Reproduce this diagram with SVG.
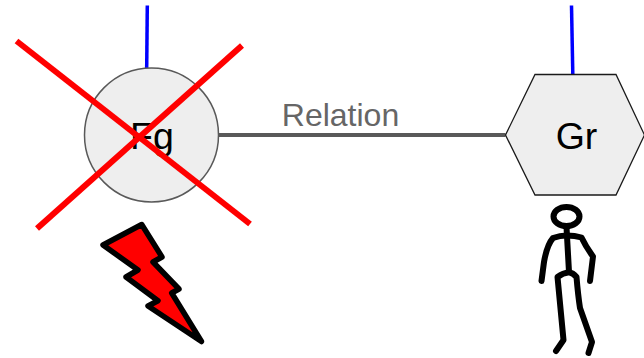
<svg xmlns="http://www.w3.org/2000/svg" width="644" height="358" viewBox="0 0 644 358">
<style>
.shape{fill:#eeeeee}
.lbl{font-family:"Liberation Sans",Arial,sans-serif;fill:#000;font-size:37.500px;text-anchor:middle}
.blue{fill:none;stroke:#0000ff;stroke-width:3.500}
.red{fill:none;stroke:#ff0000;stroke-width:6}
.fig{fill:none;stroke:#000;stroke-width:6;stroke-linecap:round;stroke-linejoin:round}
</style>
<rect width="644" height="358" fill="#fff"/>
<g id="connectors">
<path class="blue" d="M147.300 5.500L146.700 68"/>
<path class="blue" d="M571.500 5.500L572.800 74"/>
<path d="M218.500 135H505.500" fill="none" stroke="#595959" stroke-width="4"/>
<text x="340.500" y="126" font-family="'Liberation Sans',Arial,sans-serif" font-size="32px" fill="#666666" text-anchor="middle">Relation</text>
</g>
<g id="node-fg">
<circle class="shape" cx="151.500" cy="135" r="67" stroke="#595959" stroke-width="1.500"/>
<text class="lbl" x="152" y="149">Fg</text>
</g>
<g id="node-gr">
<polygon class="shape" points="505.500,135 535,74.500 616,74.500 644.500,135 616,195 535,195" stroke="#1a1a1a" stroke-width="1.300"/>
<text class="lbl" x="576.500" y="149">Gr</text>
</g>
<g id="cross">
<path class="red" d="M16.500 41L250 224"/>
<path class="red" d="M37 228.500L242 45.500"/>
</g>
<g id="bolt">
<polygon points="141.700,224.500 103,245 138,270 126,277 158,300.700 148,306 201.500,341.500 171.700,293 179,289 153,262 162,257" fill="#ff0000" stroke="#000" stroke-width="5.500" stroke-linejoin="round"/>
</g>
<g id="figure">
<ellipse class="fig" cx="566.500" cy="216.500" rx="13" ry="9.500"/>
<path class="fig" d="M566.500 227L569 272"/>
<path class="fig" d="M541.500 281L544 262Q547 245 553 238Q560 235.500 566.500 235.500Q575 235.500 581.500 237.500Q586 247 593 256.500L590 281"/>
<path class="fig" d="M556 351L563.500 340L557.500 277Q563 273 569 272.300Q573 273 576.500 277Q578 295 580 308L592 342L588.500 353"/>
</g>
</svg>
